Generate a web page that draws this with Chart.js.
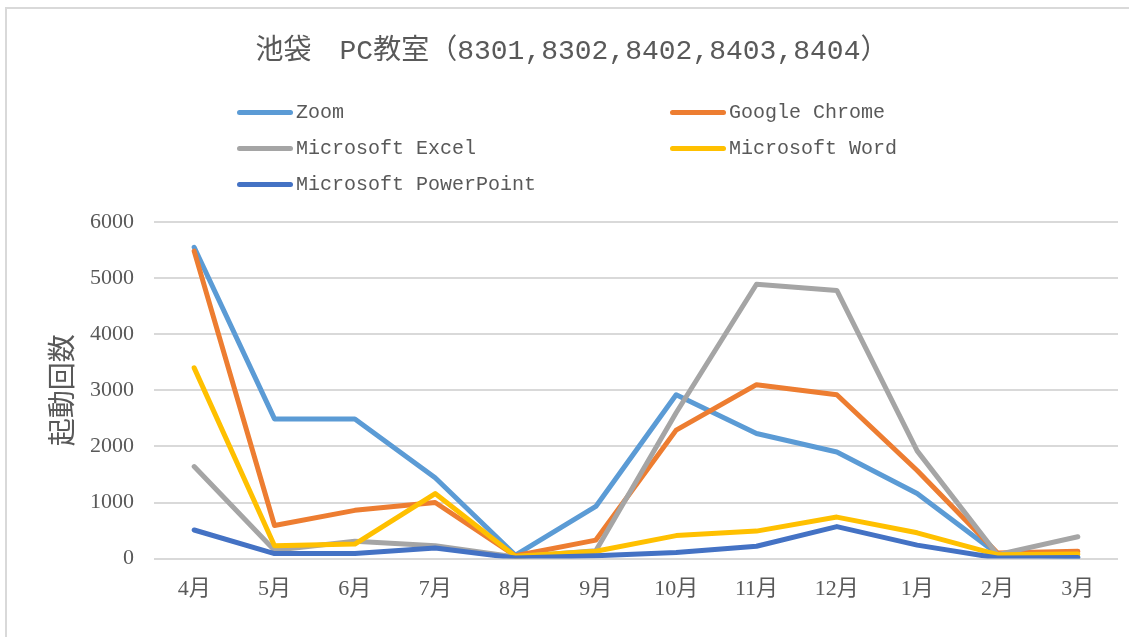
<!DOCTYPE html>
<html>
<head>
<meta charset="utf-8">
<script src="https://cdn.jsdelivr.net/npm/chart.js@4.4.1/dist/chart.umd.min.js"></script>
<style>
  html, body { margin: 0; padding: 0; background: #ffffff; }
  #wrap { position: relative; width: 1129px; height: 637px; overflow: hidden; }
  #frame { position: absolute; left: 5px; top: 7px; width: 1200px; height: 700px;
           border-top: 2px solid #d9d9d9; border-left: 2px solid #d9d9d9; box-sizing: border-box; }
  canvas { position: absolute; left: 0; top: 0; }
  #title { position: absolute; left: 8px; width: 1128px; top: 34px; text-align: center; white-space: nowrap;
           font-family: "Liberation Mono", "Noto Sans CJK JP", monospace; font-size: 28px; line-height: 36px; color: #595959; }
  .lg { position: absolute; height: 24px; display: flex; align-items: center;
        font-family: "Liberation Mono", "Noto Sans CJK JP", monospace; font-size: 20px; color: #595959; white-space: nowrap; }
  .lg .sw { width: 56px; height: 5px; border-radius: 3px; margin-right: 3px; }
</style>
</head>
<body>
<div id="wrap">
  <div id="frame"></div>
  <canvas id="c" width="1129" height="637"></canvas>
  <div id="title">池袋　PC教室（8301,8302,8402,8403,8404）</div>
  <div id="legend"></div>
</div>
<script>
const categories = ['4月','5月','6月','7月','8月','9月','10月','11月','12月','1月','2月','3月'];
const seriesNames = ['Zoom', 'Google Chrome', 'Microsoft Excel', 'Microsoft Word', 'Microsoft PowerPoint'];
const zoomValues   = [5550, 2490, 2490, 1440, 60, 930, 2920, 2230, 1900, 1160, 80, 30];
const chromeValues = [5480, 590, 860, 1000, 50, 330, 2290, 3100, 2920, 1570, 100, 130];
const excelValues  = [1640, 150, 310, 230, 30, 140, 2600, 4890, 4780, 1920, 70, 390];
const wordValues   = [3400, 230, 260, 1160, 40, 130, 410, 490, 740, 460, 70, 80];
const pptValues    = [510, 90, 90, 190, 10, 50, 110, 220, 570, 240, 10, 20];
const yTicks = [0, 1000, 2000, 3000, 4000, 5000, 6000];
const colors = ['#5B9BD5', '#ED7D31', '#A5A5A5', '#FFC000', '#4472C4'];
const allValues = [zoomValues, chromeValues, excelValues, wordValues, pptValues];

const datasets = seriesNames.map((name, i) => ({
  label: name,
  data: allValues[i],
  borderColor: colors[i],
  backgroundColor: colors[i],
  borderWidth: 5,
  pointRadius: 0,
  pointHoverRadius: 0,
  tension: 0,
  fill: false,
  borderCapStyle: 'round',
  borderJoinStyle: 'round',
  order: seriesNames.length - i
}));

// HTML legend in two columns
const legendPos = [[237, 100], [670, 100], [237, 136], [670, 136], [237, 172]];
const legendEl = document.getElementById('legend');
seriesNames.forEach((name, i) => {
  const d = document.createElement('div');
  d.className = 'lg';
  d.style.left = legendPos[i][0] + 'px';
  d.style.top = legendPos[i][1] + 'px';
  const sw = document.createElement('span');
  sw.className = 'sw';
  sw.style.background = colors[i];
  const t = document.createElement('span');
  t.textContent = name;
  d.appendChild(sw); d.appendChild(t);
  legendEl.appendChild(d);
});

const tickFont = { family: '"Liberation Serif", "Noto Sans CJK JP", serif', size: 22 };

new Chart(document.getElementById('c'), {
  type: 'line',
  data: { labels: categories, datasets: datasets },
  options: {
    responsive: false,
    animation: false,
    layout: { padding: { left: 33, right: 11, top: 222, bottom: 18 } },
    plugins: {
      legend: { display: false },
      tooltip: { enabled: false },
      title: { display: false }
    },
    scales: {
      x: {
        type: 'category',
        offset: true,
        grid: { display: false, drawTicks: false },
        border: { display: false },
        ticks: { color: '#595959', font: tickFont, padding: 17, maxRotation: 0, autoSkip: false }
      },
      y: {
        min: 0,
        max: 6000,
        afterBuildTicks: (scale) => { scale.ticks = yTicks.map(v => ({ value: v })); },
        afterFit: (scale) => { scale.width = 121; },
        grid: { color: '#d9d9d9', lineWidth: 2, drawTicks: false },
        border: { display: false },
        ticks: { color: '#595959', font: tickFont, padding: 20, callback: (v) => String(v) },
        title: {
          display: true,
          text: '起動回数',
          color: '#595959',
          font: { family: '"Noto Sans CJK JP", sans-serif', size: 28, weight: 'normal' },
          padding: { top: 12, bottom: 0 }
        }
      }
    }
  }
});
</script>
</body>
</html>
